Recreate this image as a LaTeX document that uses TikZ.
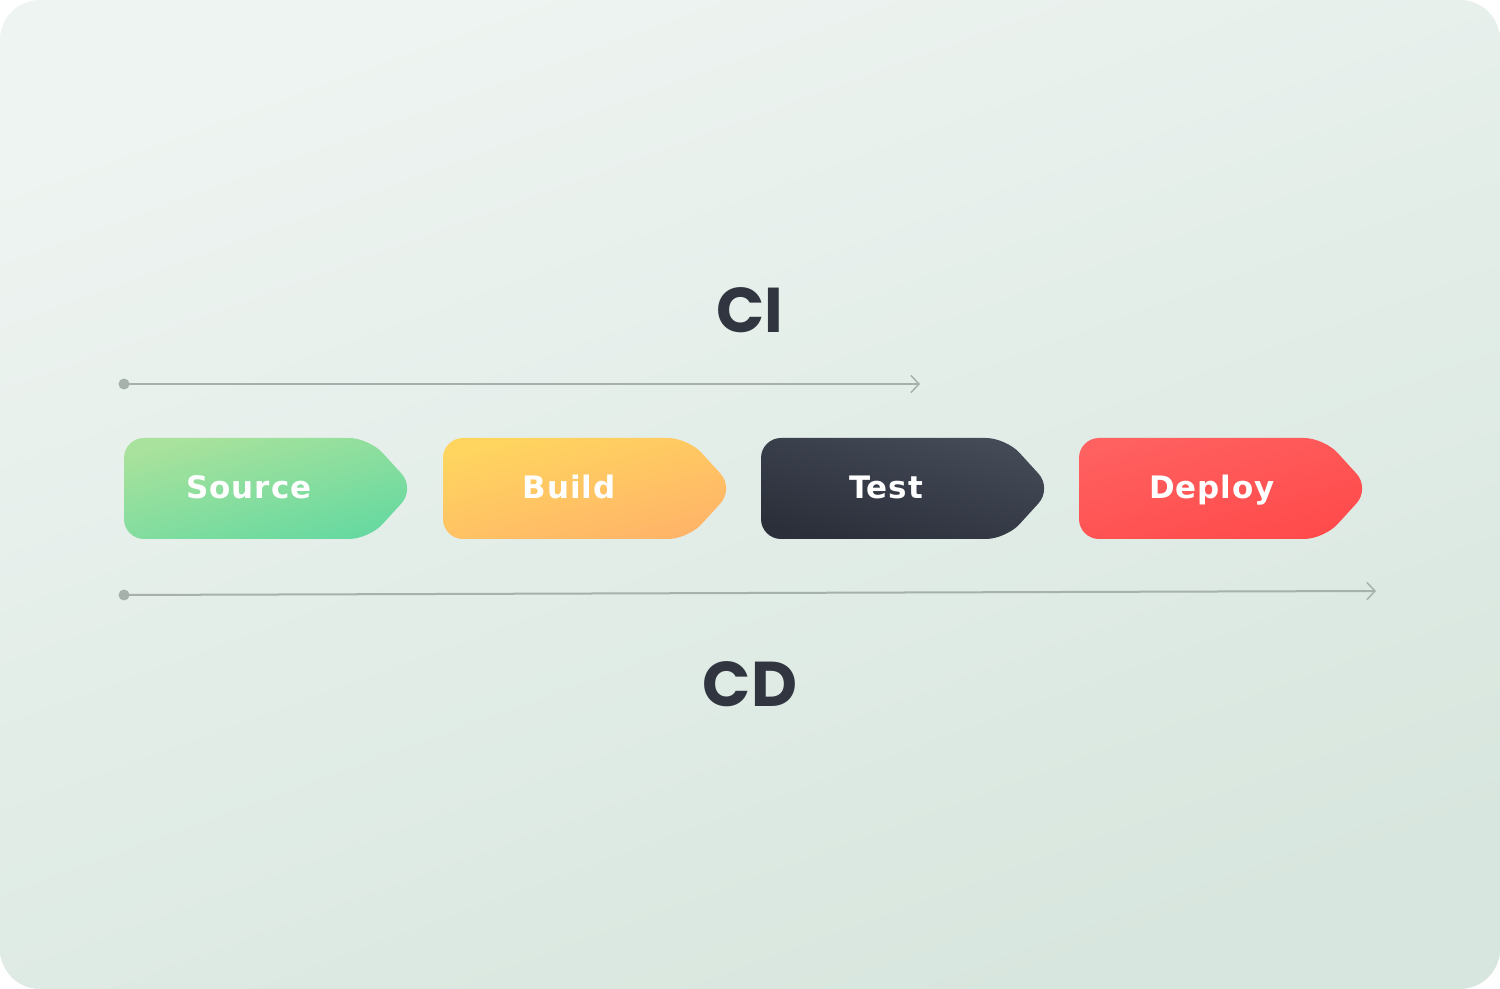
\documentclass[tikz,border=0pt]{standalone}
\usepackage{fontspec}
\usepackage{tikz}
\usetikzlibrary{arrows.meta}
\newfontfamily\stagefont[LetterSpace=3]{DejaVu Sans}
\newfontfamily\headfont{Poppins}
\definecolor{bgtop}{HTML}{EEF4F1}
\definecolor{bgbottom}{HTML}{D7E6DE}
\definecolor{linegray}{HTML}{A7B1AC}
\definecolor{inkdark}{HTML}{30353F}
\definecolor{srcA}{HTML}{A9E29C}
\definecolor{srcB}{HTML}{66D9A0}
\definecolor{bldA}{HTML}{FFD55F}
\definecolor{bldB}{HTML}{FFB468}
\definecolor{tstA}{HTML}{454B57}
\definecolor{tstB}{HTML}{2A2F3A}
\definecolor{depA}{HTML}{FF6060}
\definecolor{depB}{HTML}{FF4A4A}
\tikzset{
  stagebox/.style={rounded corners=0.2cm},
  stagelabel/.style={anchor=base, text=white, font=\stagefont\bfseries\fontsize{8.8}{10}\selectfont},
  headlabel/.style={text=inkdark, font=\headfont\bfseries\fontsize{18}{20}\selectfont},
  timeline/.style={draw=linegray, line width=0.02cm, -{Straight Barb[length=0.08cm, width=0.17cm, line width=0.015cm]}}
}

\begin{document}
\begin{tikzpicture}[x=0.01cm, y=-0.01cm]
  \useasboundingbox (0,0) rectangle (1500,989);
  \fill[white] (0,0) rectangle (1500,989);
  \shade[top color=bgtop, bottom color=bgbottom, shading angle=20, rounded corners=0.4cm] (0,0) rectangle (1500,989);

  % heading labels
  \node[headlabel] (ci) at (750,310) {CI};
  \node[headlabel] (cd) at (750,684) {CD};

  % pipeline stages
  \foreach \name/\text/\x/\tx/\ca/\cb/\ang in {source/Source/124/249/srcA/srcB/15,
      build/Build/443/569/bldA/bldB/15, test/Test/761/886/tstA/tstB/-15, deploy/Deploy/1079/1212/depA/depB/15} {
    \shade[stagebox, top color=\ca, bottom color=\cb, shading angle=\ang]
      (\x,438) -- ++(245,0) -- ++(46,50.5) -- ++(-46,50.5) -- ++(-245,0) -- cycle;
    \node[stagelabel] (\name) at (\tx,499) {\text};
  }

  % timelines
  \coordinate (ci-start) at (124,384);
  \coordinate (ci-end) at (920,384);
  \coordinate (cd-start) at (124,595);
  \coordinate (cd-end) at (1376,591);
  \fill[linegray] (ci-start) circle (0.055cm);
  \fill[linegray] (cd-start) circle (0.055cm);
  \draw[timeline] (ci-start) -- (ci-end);
  \draw[timeline] (cd-start) -- (cd-end);
\end{tikzpicture}
\end{document}
